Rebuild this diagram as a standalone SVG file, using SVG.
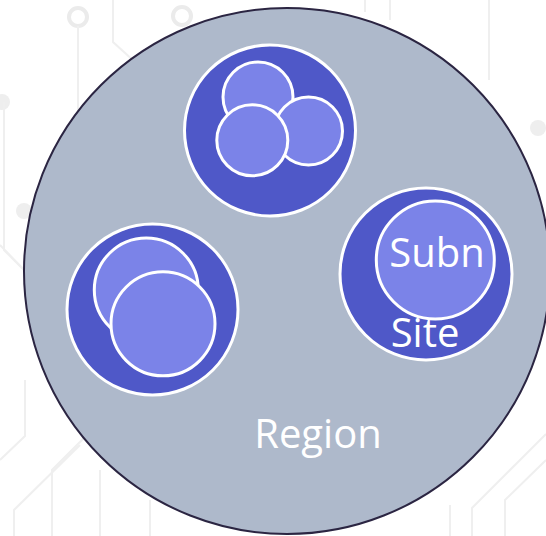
<svg xmlns="http://www.w3.org/2000/svg" width="546" height="536" viewBox="0 0 546 536">
<style>
.bg{fill:none;stroke:#efefef;stroke-width:2}
.bgdot{fill:#eeeeee}
.bgring{fill:none;stroke:#ebebeb;stroke-width:4}
.region{fill:#aeb9cb;stroke:#2b2542;stroke-width:2}
.site{fill:#4f58c8;stroke:#ffffff;stroke-width:3}
.subnet{fill:#7b83e8;stroke:#ffffff;stroke-width:3}
.lbl{font-family:"Open Sans","Noto Sans",sans-serif;font-size:40px;fill:#ffffff;text-anchor:middle}
</style>
<rect x="0" y="0" width="546" height="536" fill="#ffffff"/>
<g id="background">
<circle class="bgring" cx="78" cy="17" r="9"/>
<circle class="bgring" cx="182" cy="16" r="9"/>
<line class="bg" x1="78" y1="26" x2="78" y2="220"/>
<polyline class="bg" points="113,0 113,42 135,62"/>
<circle class="bgdot" cx="2" cy="102" r="8"/>
<circle class="bgdot" cx="24" cy="211" r="8"/>
<polyline class="bg" points="4,102 4,250 24,270"/>
<polyline class="bg" points="0,245 26,272"/>
<line class="bg" x1="365" y1="0" x2="365" y2="12"/>
<line class="bg" x1="390" y1="0" x2="390" y2="20"/>
<line class="bg" x1="489" y1="0" x2="489" y2="80"/>
<circle class="bgdot" cx="538" cy="128" r="8"/>
<polyline class="bg" points="0,460 25,436 25,380"/>
<polyline class="bg" points="14,536 14,510 80,445"/>
<polyline class="bg" points="52,536 52,470 85,437"/>
<polyline class="bg" points="100,536 100,470"/>
<polyline class="bg" points="150,536 150,500"/>
<polyline class="bg" points="450,536 450,505"/>
<polyline class="bg" points="472,536 472,508 546,434"/>
<polyline class="bg" points="505,536 505,500 546,460"/>
</g>
<g id="region">
<circle class="region" cx="287" cy="271" r="263"/>
<text class="lbl" x="318" y="448">Region</text>
</g>
<g id="site-top">
<circle class="site" cx="270" cy="130.5" r="85.5"/>
<circle class="subnet" cx="258" cy="97" r="35"/>
<circle class="subnet" cx="308.5" cy="131" r="34"/>
<circle class="subnet" cx="252.3" cy="140.3" r="35.5"/>
</g>
<g id="site-left">
<circle class="site" cx="152.5" cy="309.5" r="85.5"/>
<circle class="subnet" cx="146.3" cy="290" r="52"/>
<circle class="subnet" cx="163" cy="323.8" r="52"/>
</g>
<g id="site-right">
<circle class="site" cx="426" cy="274" r="86"/>
<circle class="subnet" cx="435.3" cy="260" r="59"/>
<text class="lbl" x="437" y="267">Subn</text>
<text class="lbl" x="425" y="347">Site</text>
</g>
<g id="connectors"></g>
</svg>
